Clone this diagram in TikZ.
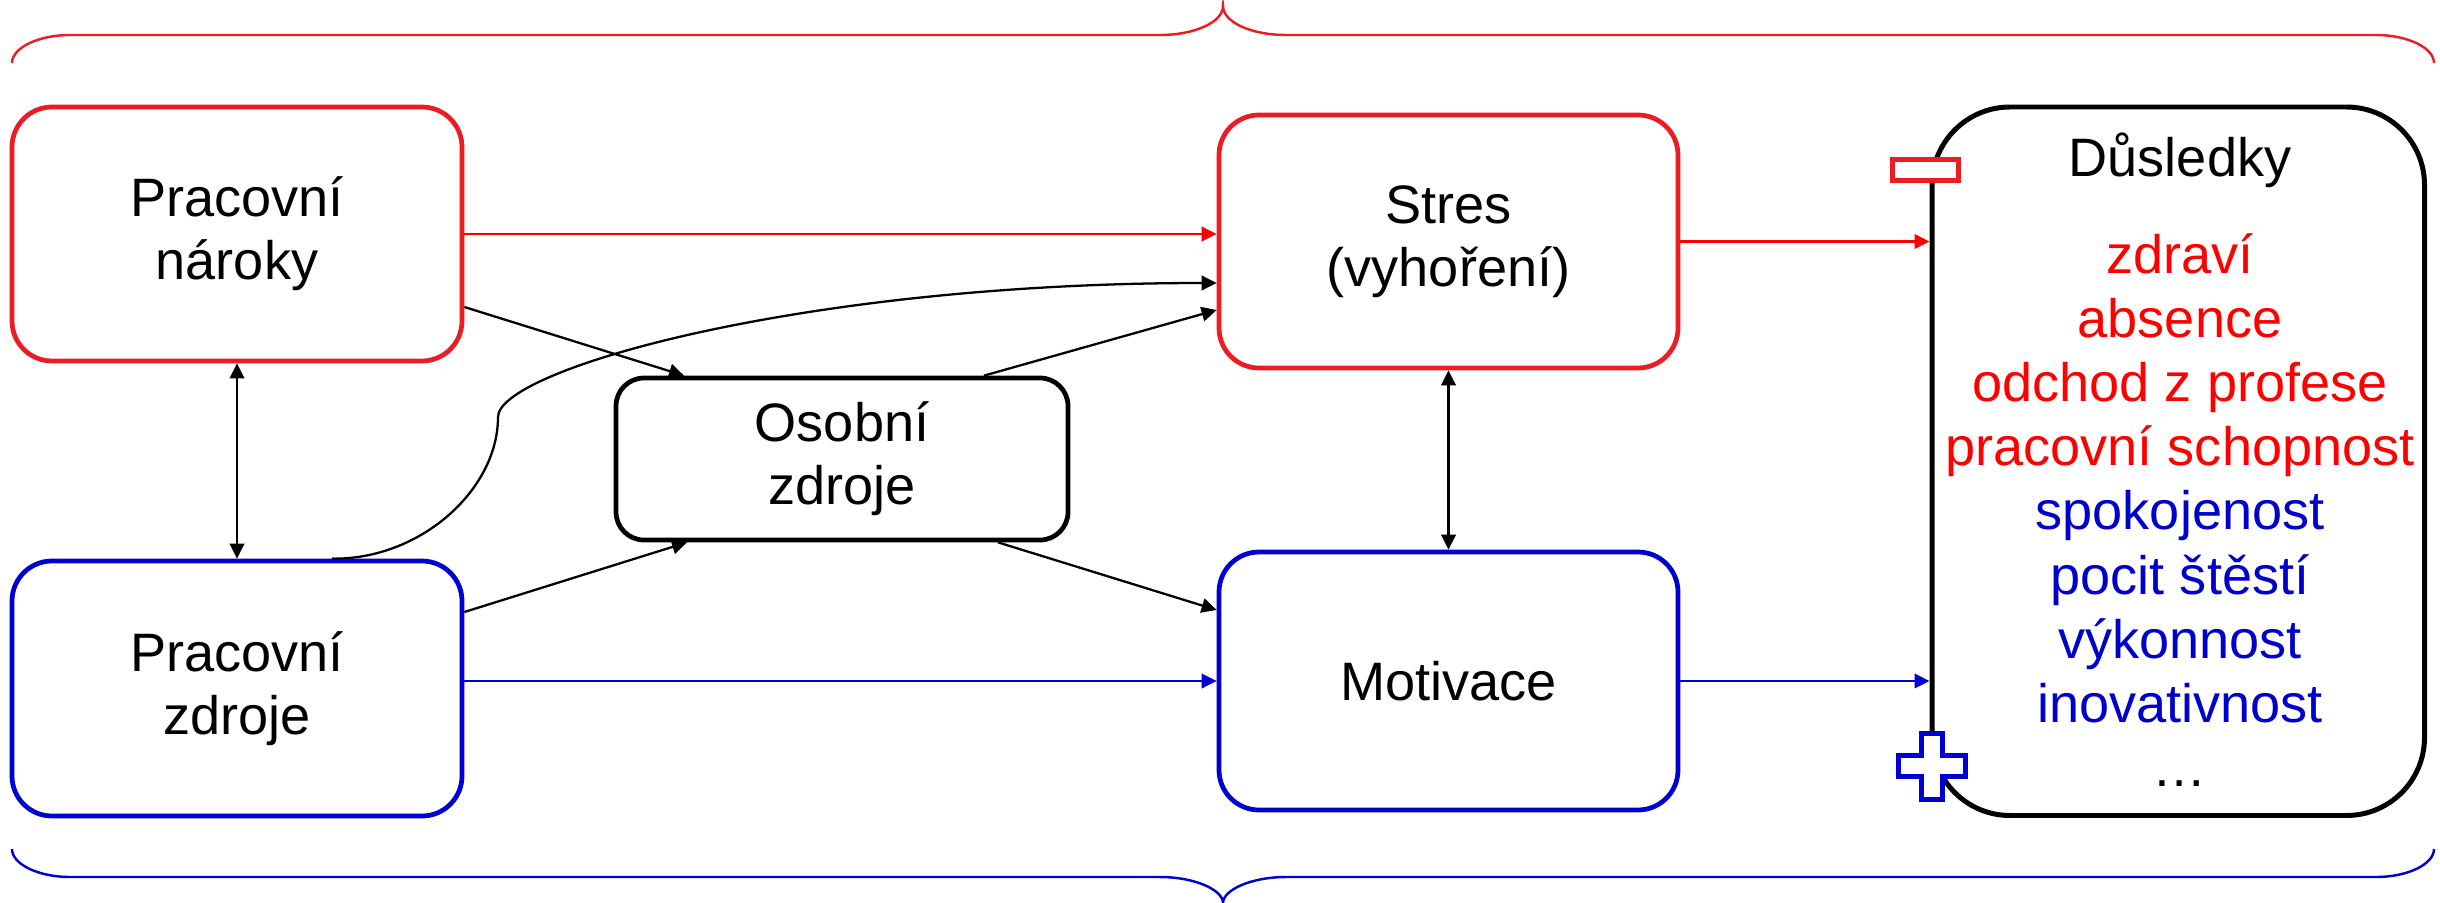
\documentclass[tikz,border=0pt]{standalone}
\usepackage{fontspec}
\setmainfont{Liberation Sans}
\usetikzlibrary{arrows.meta,calc}
\definecolor{bred}{RGB}{237,28,36}
\definecolor{bblue}{RGB}{0,0,210}
\definecolor{tred}{RGB}{255,0,0}
\definecolor{tblue}{RGB}{0,0,204}
\newcommand\boxfont{\fontsize{15.4pt}{18pt}\selectfont}
\begin{document}
\begin{tikzpicture}[x=0.1mm,y=-0.1mm,
  box/.style={rectangle, rounded corners=4mm, line width=1.35pt, align=center, font=\boxfont, inner sep=0pt, fill=white},
  conn/.style={line width=0.65pt, -{Triangle[length=1.5mm,width=1.45mm]}},
  dconn/.style={line width=0.65pt, {Triangle[length=1.5mm,width=1.45mm]}-{Triangle[length=1.5mm,width=1.45mm]}},
  brace/.style={line width=0.7pt},
  listtext/.style={anchor=base, font=\boxfont, inner sep=0pt}
]
\useasboundingbox (0,0) rectangle (2440,903);

% braces
\draw[brace, bred] (12,63) .. controls (12,48) and (38,35) .. (70,35) -- (1160,35)
  .. controls (1195,35) and (1223,22) .. (1223,6)
  .. controls (1223,22) and (1251,35) .. (1286,35) -- (2376,35)
  .. controls (2408,35) and (2434,48) .. (2434,63);
\draw[brace, bblue] (12,849) .. controls (12,864) and (38,877) .. (70,877) -- (1160,877)
  .. controls (1195,877) and (1223,890) .. (1223,903)
  .. controls (1223,890) and (1251,877) .. (1286,877) -- (2376,877)
  .. controls (2408,877) and (2434,864) .. (2434,849);

% boxes
\node[box, draw=bred, minimum width=45mm, minimum height=25.4mm] (PN) at (237,234) {Pracovní\\nároky};
\node[box, draw=bblue, minimum width=45mm, minimum height=25.5mm] (PZ) at (237,688.5) {Pracovní\\zdroje};
\node[box, draw=black, rounded corners=2.8mm, minimum width=45.2mm, minimum height=16.2mm] (OZ) at (842,459) {Osobní\\zdroje};
\node[box, draw=bred, minimum width=45.9mm, minimum height=25.3mm] (S) at (1448.5,241.5) {Stres\\(vyhoření)};
\node[box, draw=bblue, minimum width=45.9mm, minimum height=25.8mm] (M) at (1448.5,681) {Motivace};
\node[box, draw=black, line width=1.42pt, rounded corners=7.8mm, minimum width=49.25mm, minimum height=70.85mm] (D) at (2178.25,461.25) {};

% texts in consequences box
\node[listtext] (Dt) at (2180,177) {Důsledky};
\foreach \t/\c [count=\i from 0] in {zdraví/tred, absence/tred, odchod z profese/tred, pracovní schopnost/tred, spokojenost/tblue, pocit štěstí/tblue, výkonnost/tblue, inovativnost/tblue, …/black}
  \node[listtext, text=\c] (L\i) at (2180,{273+64.2*\i}) {\t};

% minus and plus signs
\node[rectangle, draw=bred, fill=white, line width=1.42pt, inner sep=0pt, minimum width=6.6mm, minimum height=2.1mm] (minus) at (1925.5,170) {};
\draw[bblue, line width=1.42pt, fill=white] (1921.5,733.5) -- (1942.5,733.5) -- (1942.5,755.5) -- (1965.5,755.5) -- (1965.5,776.5) -- (1942.5,776.5) -- (1942.5,799.5) -- (1921.5,799.5) -- (1921.5,776.5) -- (1898.5,776.5) -- (1898.5,755.5) -- (1921.5,755.5) -- cycle;

% connectors
\draw[conn, tred] (PN.east) -- (PN.east -| S.west);
\draw[conn] ([yshift=-7.3mm]PN.east) -- ([xshift=-15.8mm]OZ.north);
\draw[conn] ([xshift=14.2mm]OZ.north) -- ([yshift=-6.85mm]S.west);
\draw[conn] ([xshift=9.5mm]PZ.north) .. controls (420,560) and (498,490) .. (498,417)
  .. controls (498,370) and (800,283) .. ([yshift=-4.15mm]S.west);
\draw[conn] ([yshift=7.65mm]PZ.east) -- ([xshift=-15.5mm]OZ.south);
\draw[conn] ([xshift=15.6mm]OZ.south) -- ([yshift=7.1mm]M.west);
\draw[conn, bblue] (M.west -| PZ.east) -- (M.west);
\draw[conn, tred] (S.east) -- (S.east -| D.west);
\draw[conn, bblue] (M.east) -- (M.east -| D.west);
\draw[dconn] (PN.south) -- (PZ.north);
\draw[dconn] (S.south) -- (M.north);
\end{tikzpicture}
\end{document}
